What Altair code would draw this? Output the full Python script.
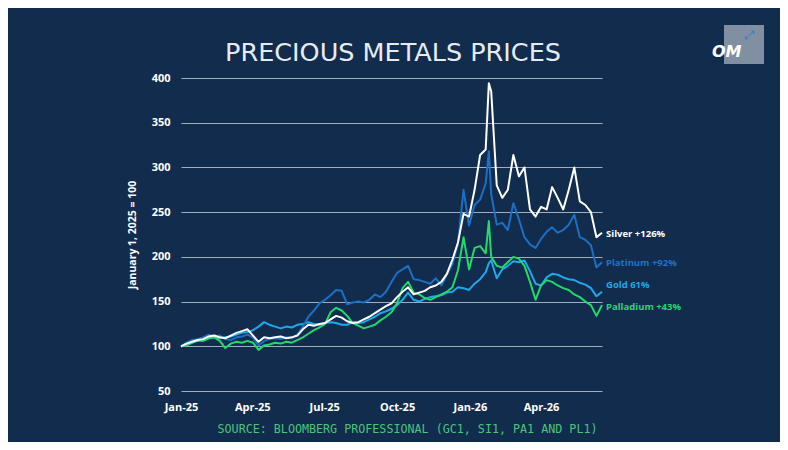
import altair as alt
import pandas as pd

dates = [
    "2025-01-01", "2025-01-08", "2025-01-15", "2025-01-22", "2025-01-29",
    "2025-02-05", "2025-02-12", "2025-02-19", "2025-02-26",
    "2025-03-05", "2025-03-12", "2025-03-19", "2025-03-26",
    "2025-04-02", "2025-04-09", "2025-04-16", "2025-04-23", "2025-04-30",
    "2025-05-07", "2025-05-14", "2025-05-21", "2025-05-28",
    "2025-06-04", "2025-06-11", "2025-06-18", "2025-06-25",
    "2025-07-02", "2025-07-09", "2025-07-16", "2025-07-23", "2025-07-30",
    "2025-08-06", "2025-08-13", "2025-08-20", "2025-08-27",
    "2025-09-03", "2025-09-10", "2025-09-17", "2025-09-24",
    "2025-10-01", "2025-10-08", "2025-10-15", "2025-10-22", "2025-10-29",
    "2025-11-05", "2025-11-12", "2025-11-19", "2025-11-26",
    "2025-12-03", "2025-12-10", "2025-12-17", "2025-12-24", "2025-12-31",
    "2026-01-07", "2026-01-14", "2026-01-21", "2026-01-25", "2026-01-28",
    "2026-02-04", "2026-02-11", "2026-02-18", "2026-02-25",
    "2026-03-04", "2026-03-11", "2026-03-18", "2026-03-25",
    "2026-04-01", "2026-04-08", "2026-04-15", "2026-04-22", "2026-04-29",
    "2026-05-06", "2026-05-13", "2026-05-20", "2026-05-27",
    "2026-06-03", "2026-06-10", "2026-06-17",
]

silver = [
    100, 103, 105, 107, 108, 111, 112, 110, 109, 112, 115, 117, 119,
    112, 105, 110, 109, 110, 111, 109, 110, 112, 119, 124, 123, 125,
    126, 130, 134, 132, 128, 126, 127, 130, 133, 137, 141, 145, 148,
    155, 161, 166, 158, 160, 162, 166, 168, 172, 181, 197, 216, 248, 245,
    275, 314, 320, 394, 385, 280, 266, 275, 314, 290, 300, 253, 245,
    256, 253, 278, 266, 253, 275, 300, 262, 258, 250, 222, 227,
]

platinum = [
    100, 104, 107, 108, 110, 113, 111, 112, 108, 107, 110, 111, 113,
    110, 101, 106, 108, 109, 108, 110, 109, 113, 122, 133, 140, 148,
    152, 157, 163, 162, 147, 149, 150, 149, 152, 158, 155, 161, 172,
    182, 186, 190, 175, 174, 172, 170, 176, 168, 180, 192, 215, 275, 235,
    258, 264, 282, 318, 270, 236, 238, 230, 260, 242, 222, 214, 210,
    220, 228, 233, 227, 230, 236, 247, 222, 219, 213, 188, 194,
]

gold = [
    100, 102, 104, 106, 107, 109, 110, 109, 110, 111, 113, 115, 116,
    118, 122, 127, 124, 122, 120, 122, 121, 124, 125, 127, 125, 124,
    126, 127, 126, 124, 124, 127, 126, 127, 130, 133, 137, 139, 142,
    146, 152, 160, 152, 150, 153, 155, 156, 157, 160, 161, 166, 165, 163,
    170, 175, 183, 193, 196, 176, 186, 190, 195, 194, 196, 184, 170,
    168, 177, 181, 180, 177, 175, 174, 171, 169, 165, 156, 161,
]

palladium = [
    100, 101, 104, 107, 106, 109, 110, 106, 98, 103, 105, 104, 106,
    104, 96, 101, 102, 104, 103, 105, 104, 107, 110, 114, 118, 121,
    125, 138, 143, 140, 134, 126, 123, 120, 122, 124, 129, 133, 138,
    148, 165, 172, 160, 158, 154, 152, 155, 158, 161, 166, 185, 222, 186,
    210, 212, 204, 240, 200, 190, 188, 194, 200, 198, 190, 172, 152,
    168, 174, 172, 168, 165, 163, 158, 155, 150, 146, 134, 146,
]

# drawing order: back to front
metal_names = ["Gold", "Platinum", "Palladium", "Silver"]
metal_values = [gold, platinum, palladium, silver]
metal_colors = ["#1fa8ec", "#1c6fc3", "#22d96b", "#ffffff"]

label_texts = ["Silver +126%", "Platinum +92%", "Gold 61%", "Palladium +43%"]
label_values = [226, 193, 168, 144]
label_colors = ["#ffffff", "#2172c6", "#1fa8ec", "#22d96b"]

y_ticks = [50, 100, 150, 200, 250, 300, 350, 400]

TITLE = "PRECIOUS METALS PRICES"
SOURCE = "SOURCE: BLOOMBERG PROFESSIONAL (GC1, SI1, PA1 AND PL1)"
Y_TITLE = "January 1, 2025 = 100"

FONT = "Open Sans"

x_scale = alt.Scale(
    type="utc",
    domain=[alt.DateTime(year=2025, month=1, date=1, utc=True),
            alt.DateTime(year=2026, month=6, date=17, utc=True)],
)
y_scale = alt.Scale(domain=[50, 400], nice=False, zero=False)

x_axis = alt.Axis(
    values=[alt.DateTime(year=2025, month=1, date=1, utc=True),
            alt.DateTime(year=2025, month=4, date=1, utc=True),
            alt.DateTime(year=2025, month=7, date=1, utc=True),
            alt.DateTime(year=2025, month=10, date=1, utc=True),
            alt.DateTime(year=2026, month=1, date=1, utc=True),
            alt.DateTime(year=2026, month=4, date=1, utc=True)],
    format="%b-%y", grid=False, domain=False, ticks=False,
    labelPadding=10, labelFontSize=11, labelFont=FONT, labelFontWeight="bold",
    labelColor="#ffffff", labelFlush=False,
    title=SOURCE,
    titleColor="#4cc47a", titleFont="DejaVu Sans Mono", titleFontSize=11.7,
    titleFontWeight="normal", titleX=416, titleY=37, titleAlign="right",
    titleBaseline="middle", titleAnchor="end",
)
y_axis = alt.Axis(
    values=y_ticks, grid=True, gridColor="#a3adbb", gridWidth=1,
    domain=False, ticks=False, labelPadding=11, labelFontSize=11,
    labelFont=FONT, labelFontWeight="bold", labelColor="#ffffff",
    title=Y_TITLE, titleColor="#ffffff", titleFont=FONT,
    titleFontSize=10.5, titleFontWeight="bold", titlePadding=14,
)

X = alt.X("date:T", scale=x_scale, axis=x_axis)
Y = alt.Y("value:Q", scale=y_scale, axis=y_axis)

layers = []
for name, vals, col in zip(metal_names, metal_values, metal_colors):
    d = pd.DataFrame({"date": dates, "value": vals, "metal": name})
    layers.append(
        alt.Chart(d).mark_line(color=col, strokeWidth=2, strokeJoin="round")
        .encode(x=X, y=Y)
    )

lab_df = pd.DataFrame({
    "date": [dates[-1]] * len(label_texts),
    "value": label_values,
    "text": label_texts,
    "c": label_colors,
})
labels = alt.Chart(lab_df).mark_text(
    align="left", baseline="middle", dx=4, fontSize=9.5, font=FONT,
    fontWeight="bold",
).encode(x=X, y=Y, text="text:N", color=alt.Color("c:N", scale=None))

title_txt = alt.Chart(pd.DataFrame({"t": [TITLE]})).mark_text(
    align="center", baseline="alphabetic", fontSize=25.5, font="DejaVu Sans",
    color="#e6ecf3",
).encode(x=alt.value(212), y=alt.value(-17), text="t:N")

logo_df = pd.DataFrame({"t": ["OM"]})
logo_box = alt.Chart(logo_df).mark_rect(color="#8d9aab", opacity=0.9).encode(
    x=alt.value(543), x2=alt.value(583), y=alt.value(-53), y2=alt.value(-14)
)
logo_text = alt.Chart(logo_df).mark_text(
    align="left", baseline="alphabetic", fontSize=16, fontWeight="bold",
    fontStyle="italic", font="DejaVu Sans", color="#ffffff",
).encode(x=alt.value(531), y=alt.value(-21), text="t:N")
logo_arrow = alt.Chart(pd.DataFrame({"t": ["\u2922"]})).mark_text(
    align="center", baseline="middle", fontSize=12, font="DejaVu Sans",
    color="#1e80d8",
).encode(x=alt.value(569), y=alt.value(-43), text="t:N")

chart = alt.layer(
    *layers, labels, title_txt, logo_box, logo_text, logo_arrow
).properties(
    width=421, height=313,
    autosize=alt.AutoSizeParams(type="none"),
    padding={"left": 173, "top": 70, "right": 178, "bottom": 51},
).configure(background="#122c4e").configure_view(strokeWidth=0)

chart.save("out.html", embed_options={"renderer": "svg", "actions": False})
